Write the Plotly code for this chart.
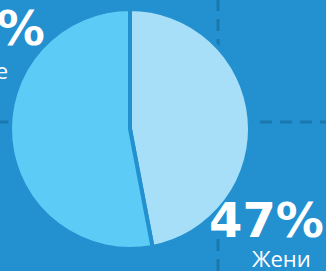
import plotly.graph_objects as go

labels = ["Женщины", "Мужчины"]
values = [47, 53]
colors = ["#a6dff7", "#5ccbf5"]
pct_labels = ["47%", "53%"]
sub_labels = ["Жени", "Мужские"]

W, H = 326, 271
BG = "#2390d0"
DASH = "#1b78ad"

fig = go.Figure(go.Pie(
    labels=labels, values=values, sort=False, direction="clockwise", rotation=0,
    marker=dict(colors=colors, line=dict(color=BG, width=4)),
    textinfo="none", hoverinfo="label+percent",
    domain=dict(x=[10 / W, 250 / W], y=[22 / H, 262 / H]),
))

fig.update_layout(
    width=W, height=H, margin=dict(l=0, r=0, t=0, b=0),
    paper_bgcolor=BG, plot_bgcolor=BG, showlegend=False,
    shapes=[
        dict(type="line", xref="paper", yref="paper", x0=218 / W, x1=218 / W, y0=0, y1=1,
             line=dict(color=DASH, width=3, dash="12px,8px"), layer="below"),
        dict(type="line", xref="paper", yref="paper", x0=0, x1=1, y0=1 - 122 / H, y1=1 - 122 / H,
             line=dict(color=DASH, width=3, dash="12px,8px"), layer="below"),
    ],
    annotations=[
        dict(text="<b>" + pct_labels[0] + "</b>", xref="paper", yref="paper", x=207 / W, y=1 - 250 / H,
             xanchor="left", yanchor="bottom", showarrow=False,
             font=dict(family="DejaVu Sans", size=48, color="white")),
        dict(text=sub_labels[0], xref="paper", yref="paper", x=250 / W, y=1 - 275 / H,
             xanchor="left", yanchor="bottom", showarrow=False,
             font=dict(family="Open Sans", size=22, color="white")),
        dict(text="<b>" + pct_labels[1] + "</b>", xref="paper", yref="paper", x=47 / W, y=1 - 58 / H,
             xanchor="right", yanchor="bottom", showarrow=False,
             font=dict(family="DejaVu Sans", size=48, color="white")),
        dict(text=sub_labels[1], xref="paper", yref="paper", x=10 / W, y=1 - 87 / H,
             xanchor="right", yanchor="bottom", showarrow=False,
             font=dict(family="Open Sans", size=22, color="white")),
    ],
)

fig.write_html("out.html", config={"displayModeBar": False},
               post_script="document.body.style.margin='0';document.body.style.overflow='hidden';")
